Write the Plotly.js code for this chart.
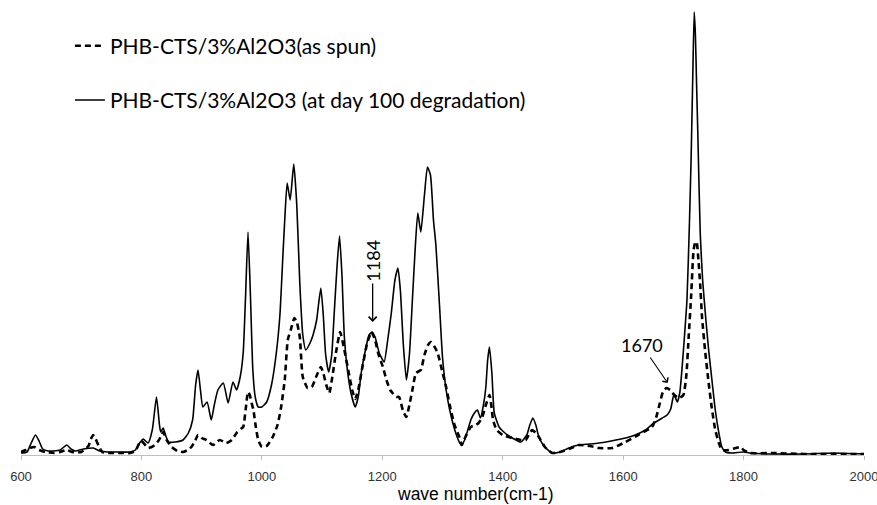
<!DOCTYPE html>
<html>
<head>
<meta charset="utf-8">
<script src="https://cdn.plot.ly/plotly-3.0.1.min.js"></script>
<style>html,body{margin:0;padding:0;background:#fff}#chart{width:877px;height:505px}</style>
</head>
<body>
<div id="chart"></div>
<script>
// Wave numbers (cm-1) and intensities (arbitrary units)
const solidX = [600,610,617,624,630,636,645,654,665,676,683,690,704,720,731,745,760,780,790,797,803,811,818,825,830,832,836,840,845,856,869,878,885,890,894,898,902,909,916,921,927,936,944,952,958,964,969,973,977,981,985,989,994,1000,1008,1016,1024,1030,1035,1038,1042,1047,1053,1058,1063,1068,1073,1080,1085,1091,1094,1098,1102,1106,1111,1116,1120,1125,1129,1133,1137,1142,1148,1155,1160,1165,1172,1178,1183,1188,1195,1203,1209,1215,1221,1226,1230,1235,1240,1245,1250,1255,1259,1264,1270,1275,1280,1285,1289,1295,1300,1306,1312,1318,1322,1327,1331,1336,1342,1347,1353,1358,1363,1368,1372,1375,1378,1382,1386,1394,1400,1408,1416,1430,1440,1445,1450,1455,1460,1470,1482,1495,1510,1526,1545,1560,1580,1604,1620,1637,1651,1665,1673,1679,1684,1687,1690,1694,1698,1702,1706,1710,1713,1716,1718,1720,1722,1724,1728,1732,1737,1742,1748,1753,1759,1764,1770,1780,1800,1810,1850,1900,1950,2000];
const solidY = [2,3,12,20,14,6,4,4,5,10,6,4,6,7,4,3,3,3,5,12,16,12,25,58,30,23,27,20,13,13,15,22,35,70,85,65,48,53,35,50,65,72,52,73,65,78,102,160,223,160,85,58,48,48,53,70,102,140,200,235,272,255,291,250,172,120,105,112,120,135,150,167,140,100,83,100,140,190,219,180,118,85,62,48,58,82,105,120,123,118,102,93,115,142,175,187,165,110,75,100,155,210,242,223,260,288,280,235,210,150,98,65,45,30,22,14,10,14,25,35,42,45,37,50,68,95,108,82,42,28,24,20,17,13,20,30,37,30,18,8,2,3,7,10,11,12,14,17,20,25,32,37,40,46,60,57,53,62,88,120,155,230,300,390,443,420,370,322,222,175,138,105,72,45,22,8,3,2,3,2,1,1,2,1];

const dashX = [600,608,615,622,630,640,655,665,676,685,700,712,716,720,724,729,735,745,770,781,790,795,800,805,811,817,822,828,834,836,842,850,860,869,877,883,889,894,900,908,919,930,941,950,958,965,969,973,977,980,983,986,990,994,1000,1008,1018,1026,1032,1038,1043,1048,1054,1058,1063,1068,1076,1083,1090,1098,1102,1107,1112,1117,1123,1130,1137,1145,1150,1155,1160,1167,1175,1182,1188,1194,1201,1207,1213,1217,1223,1228,1234,1240,1245,1250,1256,1264,1270,1276,1281,1287,1292,1299,1306,1312,1320,1328,1332,1338,1347,1355,1360,1366,1372,1378,1381,1384,1390,1400,1416,1430,1438,1445,1449,1455,1460,1470,1482,1495,1510,1526,1545,1560,1582,1604,1625,1648,1655,1661,1666,1672,1678,1685,1693,1700,1705,1709,1713,1717,1720,1722,1725,1728,1731,1736,1742,1747,1753,1759,1764,1775,1787,1795,1800,1810,1850,1900,2000];
const dashY = [3,5,7,8,5,3,2,3,5,3,3,9,16,20,16,9,3,2,2,2,4,10,14,11,7,8,10,14,20,23,15,8,4,3,5,8,14,20,17,15,10,15,12,15,22,26,28,45,63,60,52,45,28,15,8,9,18,30,48,75,115,125,137,133,118,78,67,68,78,88,82,70,62,78,102,123,105,80,65,56,65,88,112,123,115,100,88,75,65,62,58,58,45,38,50,65,82,85,100,110,113,108,102,85,68,50,30,18,10,18,28,30,32,38,50,60,50,35,25,20,17,15,15,22,25,22,18,8,2,3,6,10,9,7,7,13,20,28,38,52,63,67,65,60,57,60,80,120,160,205,213,213,195,170,138,105,72,48,25,12,5,5,7,8,5,2,2,1,1];

const seriesNames = ["PHB-CTS/3%Al2O3(as spun)", "PHB-CTS/3%Al2O3 (at day 100 degradation)"];
const tickVals = [600,800,1000,1200,1400,1600,1800,2000];
const tickText = ["600","800","1000","1200","1400","1600","1800","2000"];
const peakLabels = ["1184","1670"];
const peakX = [1184,1674];
const peakY = [133,72];

const traces = [
  {x: dashX, y: dashY, name: seriesNames[0], type: "scatter", mode: "lines",
   line: {color: "#000", width: 2.6, dash: "6px,4px", shape: "spline", smoothing: 0.5},
   legendgroup: "a"},
  {x: solidX, y: solidY, name: seriesNames[1], type: "scatter", mode: "lines",
   line: {color: "#000", width: 1.6, shape: "spline", smoothing: 0.5},
   legendgroup: "b"}
];

const layout = {
  width: 877, height: 505,
  margin: {l: 21, r: 13, t: 10, b: 50, pad: 0},
  paper_bgcolor: "#fff", plot_bgcolor: "#fff",
  showlegend: true,
  legend: {x: 0.058, y: 0.965, xanchor: "left", yanchor: "top",
           traceorder: "grouped", tracegroupgap: 24,
           bgcolor: "rgba(0,0,0,0)",
           font: {family: "Lato, 'Open Sans', sans-serif", size: 21, color: "#000"}},
  xaxis: {range: [600, 2000], tickmode: "array", tickvals: tickVals, ticktext: tickText,
          showgrid: false, zeroline: false, showline: true, linecolor: "#bfbfbf", linewidth: 1,
          ticks: "outside", ticklen: 4, tickcolor: "#bfbfbf", ticklabelstandoff: 5,
          ticklabeloverflow: "allow",
          tickfont: {family: "'Liberation Sans', Arial, sans-serif", size: 13, color: "#333"}},
  yaxis: {range: [0, 445], visible: false, fixedrange: true},
  annotations: [
    {text: "wave number(cm-1)", xref: "paper", yref: "paper", x: 0.5386, y: -0.088,
     xanchor: "center", yanchor: "middle", showarrow: false,
     font: {family: "'Liberation Sans', Arial, sans-serif", size: 17.5, color: "#000"}},
    {text: peakLabels[0], x: peakX[0], y: peakY[0], xref: "x", yref: "y",
     textangle: -90, showarrow: true, ax: 0, ay: -61, arrowhead: 4, arrowsize: 1.2, arrowwidth: 1.3,
     arrowcolor: "#000", font: {family: "Lato, sans-serif", size: 18, color: "#000"}},
    {text: peakLabels[1], x: peakX[1], y: peakY[1], xref: "x", yref: "y",
     showarrow: true, ax: -26, ay: -38, arrowhead: 4, arrowsize: 1.2, arrowwidth: 1.1,
     arrowcolor: "#000", font: {family: "Lato, sans-serif", size: 18, color: "#000"}}
  ]
};

Plotly.newPlot("chart", traces, layout, {displayModeBar: false, staticPlot: true});
</script>
</body>
</html>
